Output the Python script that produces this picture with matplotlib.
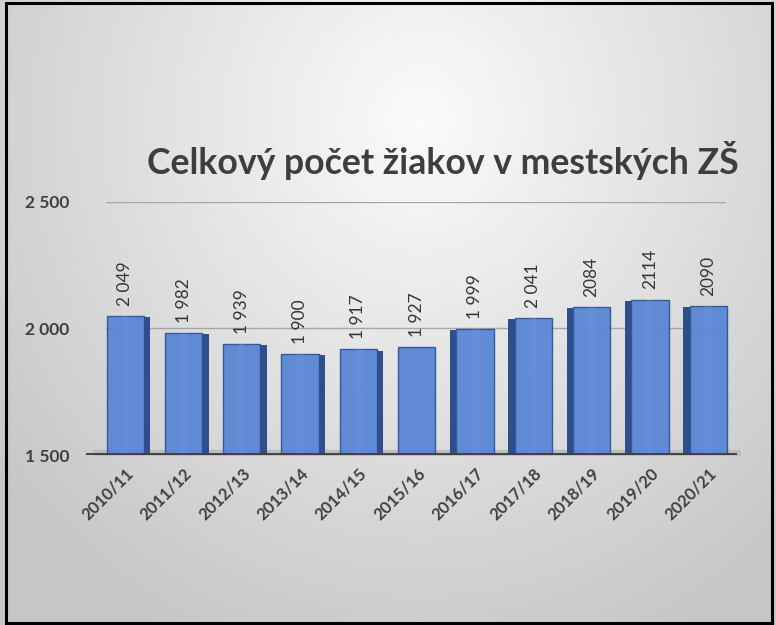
import numpy as np
import matplotlib
matplotlib.use("Agg")
import matplotlib.pyplot as plt
from matplotlib.patches import Rectangle
from matplotlib.transforms import ScaledTranslation

categories = ["2010/11", "2011/12", "2012/13", "2013/14", "2014/15", "2015/16",
              "2016/17", "2017/18", "2018/19", "2019/20", "2020/21"]
values = [2049, 1982, 1939, 1900, 1917, 1927, 1999, 2041, 2084, 2114, 2090]
value_labels = ["2 049", "1 982", "1 939", "1 900", "1 917", "1 927",
                "1 999", "2 041", "2084", "2114", "2090"]
yticks = [1500, 2000, 2500]
ytick_labels = ["1 500", "2 000", "2 500"]
title = "Celkový počet žiakov v mestských ZŠ"

plt.rcParams['font.family'] = ['Lato', 'DejaVu Sans']

fig = plt.figure(figsize=(7.76, 6.25), dpi=100)

# background gradient
bg = fig.add_axes([0, 0, 1, 1], zorder=-10)
yy, xx = np.mgrid[0:625, 0:776]
d = np.sqrt(((xx - 420) / 520.0) ** 2 + ((yy - 120) / 560.0) ** 2)
g = np.clip(0.985 - 0.2 * d, 0.78, 0.99)
bg.imshow(np.dstack([g, g, g]), extent=[0, 1, 0, 1], aspect='auto', origin='upper')
bg.set_axis_off()
bg.add_patch(Rectangle((0.008, 0.004), 0.987, 0.992, transform=bg.transAxes,
                       fill=False, ec='black', lw=2.2))

ax = fig.add_axes([0.111, 0.272, 0.849, 0.405])
ax.set_facecolor('none')
x = np.arange(len(categories))
w = 0.64
sd = 0.11
ax.set_xlim(-0.67, 10.63)
ax.set_ylim(1500, 2500)

for yv in [2000, 2500]:
    ax.axhline(yv, color='#A6A6A6', lw=1.0, zorder=0, xmin=0.03, xmax=0.97)

# floor
ax.fill_between([-0.55, 10.55], 1500, 1518, color='#BDBDBD', zorder=1)
ax.axhline(1500, color='#404040', lw=2.8, zorder=4, xmin=0.0, xmax=0.985)

ax.bar(x, np.array(values) - 1500, bottom=1500, width=w, color='#5A86D4',
       edgecolor='#2F5597', lw=1.0, zorder=2, alpha=0.95)
# side faces for 3D look
for i, v in enumerate(values):
    if i < 5:
        sx = x[i] + w / 2
    elif i > 5:
        sx = x[i] - w / 2 - sd
    else:
        continue
    ax.bar(sx, v - 1500 - 5, bottom=1500, width=sd, align='edge',
           color='#2E4E8C', lw=0, zorder=2)
    ax.bar(x[i], v - 1500, bottom=1500, width=0.12, color='#6B94DC', lw=0,
           zorder=3, alpha=0.35)

for xi, v, lab in zip(x, values, value_labels):
    ax.text(xi, v + 40, lab, rotation=90, ha='center', va='bottom',
            fontsize=12.5, color='#363636')

ax.set_yticks(yticks)
ax.set_yticklabels(ytick_labels, fontsize=12.5, fontweight='bold', color='#404040')
ax.set_xticks(x)
ax.set_xticklabels(categories, rotation=45, ha='right', rotation_mode='anchor',
                   fontsize=12, fontweight='bold', color='#404040')
offset = ScaledTranslation(-4 / 100, 0, fig.dpi_scale_trans)
for lbl in ax.get_xticklabels():
    lbl.set_transform(lbl.get_transform() + offset)
ax.tick_params(axis='both', length=0)
ax.tick_params(axis='y', pad=12)
ax.tick_params(axis='x', pad=7)
for s in ax.spines.values():
    s.set_visible(False)

fig.text(0.571, 0.744, title, ha='center', va='center', fontsize=25.7,
         fontweight='bold', color='#3E3E3E')

fig.savefig('out.png', dpi=100)
